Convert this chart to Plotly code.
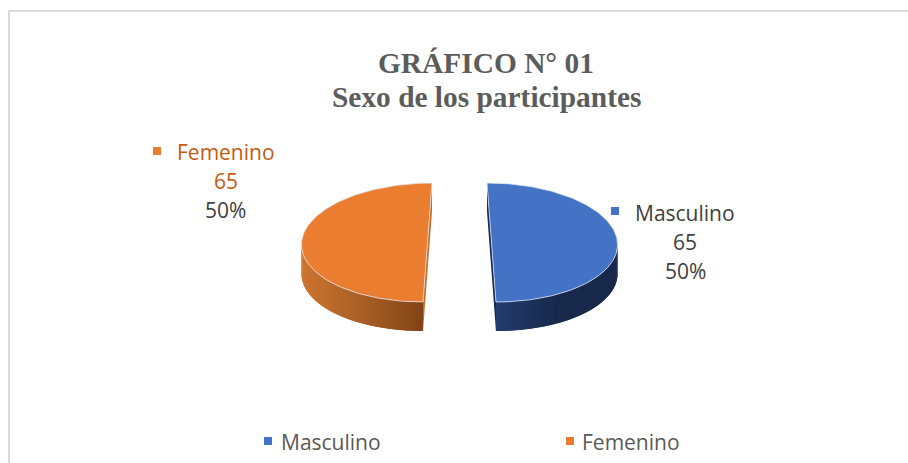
import numpy as np
import plotly.graph_objects as go

categories = ["Masculino", "Femenino"]
values = [65, 65]
top_colors = ["#4472C4", "#EB7D31"]
label_colors = ["#404040", "#C55A11"]
title_lines = ["GRÁFICO N° 01", "Sexo de los participantes"]

# layout of the tilted pie, in figure pixels
W, H = 908, 463
CX, CY = 459.5, 242.5
RX, RY = 126, 59.5
DEPTH = 29
EXPLODE = 32
PERSPECTIVE = 0.00235
START_DEG = 0
wall_ramps = [("#233B70", "#18294C", "#18294C"), ("#CC7530", "#A95F25", "#824317")]


def ell(theta_deg, ox):
    t = np.radians(theta_deg)
    y = CY - RY * np.cos(t)
    x = CX + ox * (1 + PERSPECTIVE * (y - CY)) + RX * np.sin(t)
    return x, y


def mix(c1, c2, f):
    a = [int(c1[i:i + 2], 16) for i in (1, 3, 5)]
    b = [int(c2[i:i + 2], 16) for i in (1, 3, 5)]
    return "rgb(%d,%d,%d)" % tuple(round(x + (y - x) * f) for x, y in zip(a, b))


def ramp(stops, f):
    if f < 0.5:
        return mix(stops[0], stops[1], f * 2)
    return mix(stops[1], stops[2], f * 2 - 1)


fig = go.Figure()
total = sum(values)
angle = START_DEG
slices = []
for i, v in enumerate(values):
    sweep = 360 * v / total
    mid = angle + sweep / 2
    ox = EXPLODE * np.sin(np.radians(mid))
    slices.append((angle, angle + sweep, ox))
    angle += sweep

NSTRIP = 60
for i, (a0, a1, ox) in enumerate(slices):
    # cut face
    xa, ya = ell(a0, ox)
    xb, yb = ell(a1, ox)
    cut = "#182A50" if i == 0 else "#C96F2B"
    fig.add_trace(go.Scatter(x=[xa, xb, xb, xa, xa], y=[ya, yb, yb + DEPTH, ya + DEPTH, ya],
                             mode="lines", fill="toself", fillcolor=cut,
                             line=dict(width=0), hoverinfo="skip", showlegend=False))
    # outer wall: the part of the rim that faces the viewer (90..270 deg)
    lo, hi = max(a0, 90), min(a1, 270)
    edges = np.linspace(lo, hi, NSTRIP + 1)
    step = edges[1] - edges[0]
    xs_all = [ell(e, ox)[0] for e in edges]
    xmin, xmax = min(xs_all), max(xs_all)
    # painted from the far end so each strip overlaps its neighbour and no seams show
    for e0 in edges[:-1]:
        e1 = min(e0 + 2 * step, hi)
        pts = np.linspace(e0, e1, 4)
        x, y = ell(pts, ox)
        f = (ell(e0 + step / 2, ox)[0] - xmin) / (xmax - xmin)
        c = ramp(wall_ramps[i], f)
        fig.add_trace(go.Scatter(x=np.r_[x, x[::-1], x[0]], y=np.r_[y, y[::-1] + DEPTH, y[0]],
                                 mode="lines", fill="toself", fillcolor=c,
                                 line=dict(width=0), hoverinfo="skip", showlegend=False))

for i, (a0, a1, ox) in enumerate(slices):
    th = np.linspace(a0, a1, 120)
    xs, ys = ell(th, ox)
    fig.add_trace(go.Scatter(x=np.r_[xs, xs[0]], y=np.r_[ys, ys[0]], mode="lines", fill="toself",
                             fillcolor=top_colors[i], line=dict(color="rgba(225,232,245,0.75)", width=1),
                             name=categories[i], text=[categories[i]] * 121, hoverinfo="text",
                             showlegend=False))

# data-label keys and legend keys
LABEL_POS = [(685, 213), (225.5, 152)]
LABEL_KEY = [(615, 211), (157, 151)]
LEGEND_KEY = [(268, 441), (570, 441)]
LEGEND_TEXT = [278.5, 580]
LINE_STEP = 29
for i, c in enumerate(categories):
    fig.add_trace(go.Scatter(x=[LABEL_KEY[i][0]], y=[LABEL_KEY[i][1]], mode="markers",
                             marker=dict(symbol="square", size=8, color=top_colors[i]),
                             hoverinfo="skip", showlegend=False))
    fig.add_trace(go.Scatter(x=[LEGEND_KEY[i][0]], y=[LEGEND_KEY[i][1]], mode="markers",
                             marker=dict(symbol="square", size=8, color=top_colors[i]),
                             hoverinfo="skip", showlegend=False))
    lines = [c, str(values[i]), "%d%%" % round(100 * values[i] / total)]
    colors = [label_colors[i], label_colors[i], "#404040"]
    for k, (t, col) in enumerate(zip(lines, colors)):
        fig.add_annotation(x=LABEL_POS[i][0], y=LABEL_POS[i][1] + k * LINE_STEP, text=t, showarrow=False,
                           xref="x", yref="y", xanchor="center", yanchor="middle",
                           font=dict(family="Open Sans", size=21, color=col))
    fig.add_annotation(x=LEGEND_TEXT[i], y=442, text=c, showarrow=False, xref="x", yref="y",
                       xanchor="left", yanchor="middle",
                       font=dict(family="Open Sans", size=21, color="#595959"))

for t, y in zip(title_lines, [63, 97]):
    fig.add_annotation(x=486, y=y, text="<b>%s</b>" % t, showarrow=False, xref="x", yref="y",
                       xanchor="center", yanchor="middle",
                       font=dict(family="Liberation Serif", size=29.4, color="#5C5C5C"))

border = dict(color="#D9D9D9", width=2)
fig.add_shape(type="line", x0=9, x1=908, y0=11, y1=11, line=border, xref="x", yref="y")
fig.add_shape(type="line", x0=9, x1=9, y0=11, y1=463, line=border, xref="x", yref="y")

fig.update_layout(width=W, height=H, margin=dict(l=0, r=0, t=0, b=0), autosize=False,
                  paper_bgcolor="white", plot_bgcolor="white", showlegend=False,
                  xaxis=dict(range=[0, W], visible=False, fixedrange=True),
                  yaxis=dict(range=[H, 0], visible=False, fixedrange=True))
fig.write_html("out.html", config={"displayModeBar": False},
               post_script="document.body.style.margin='0';document.body.style.overflow='hidden';")
